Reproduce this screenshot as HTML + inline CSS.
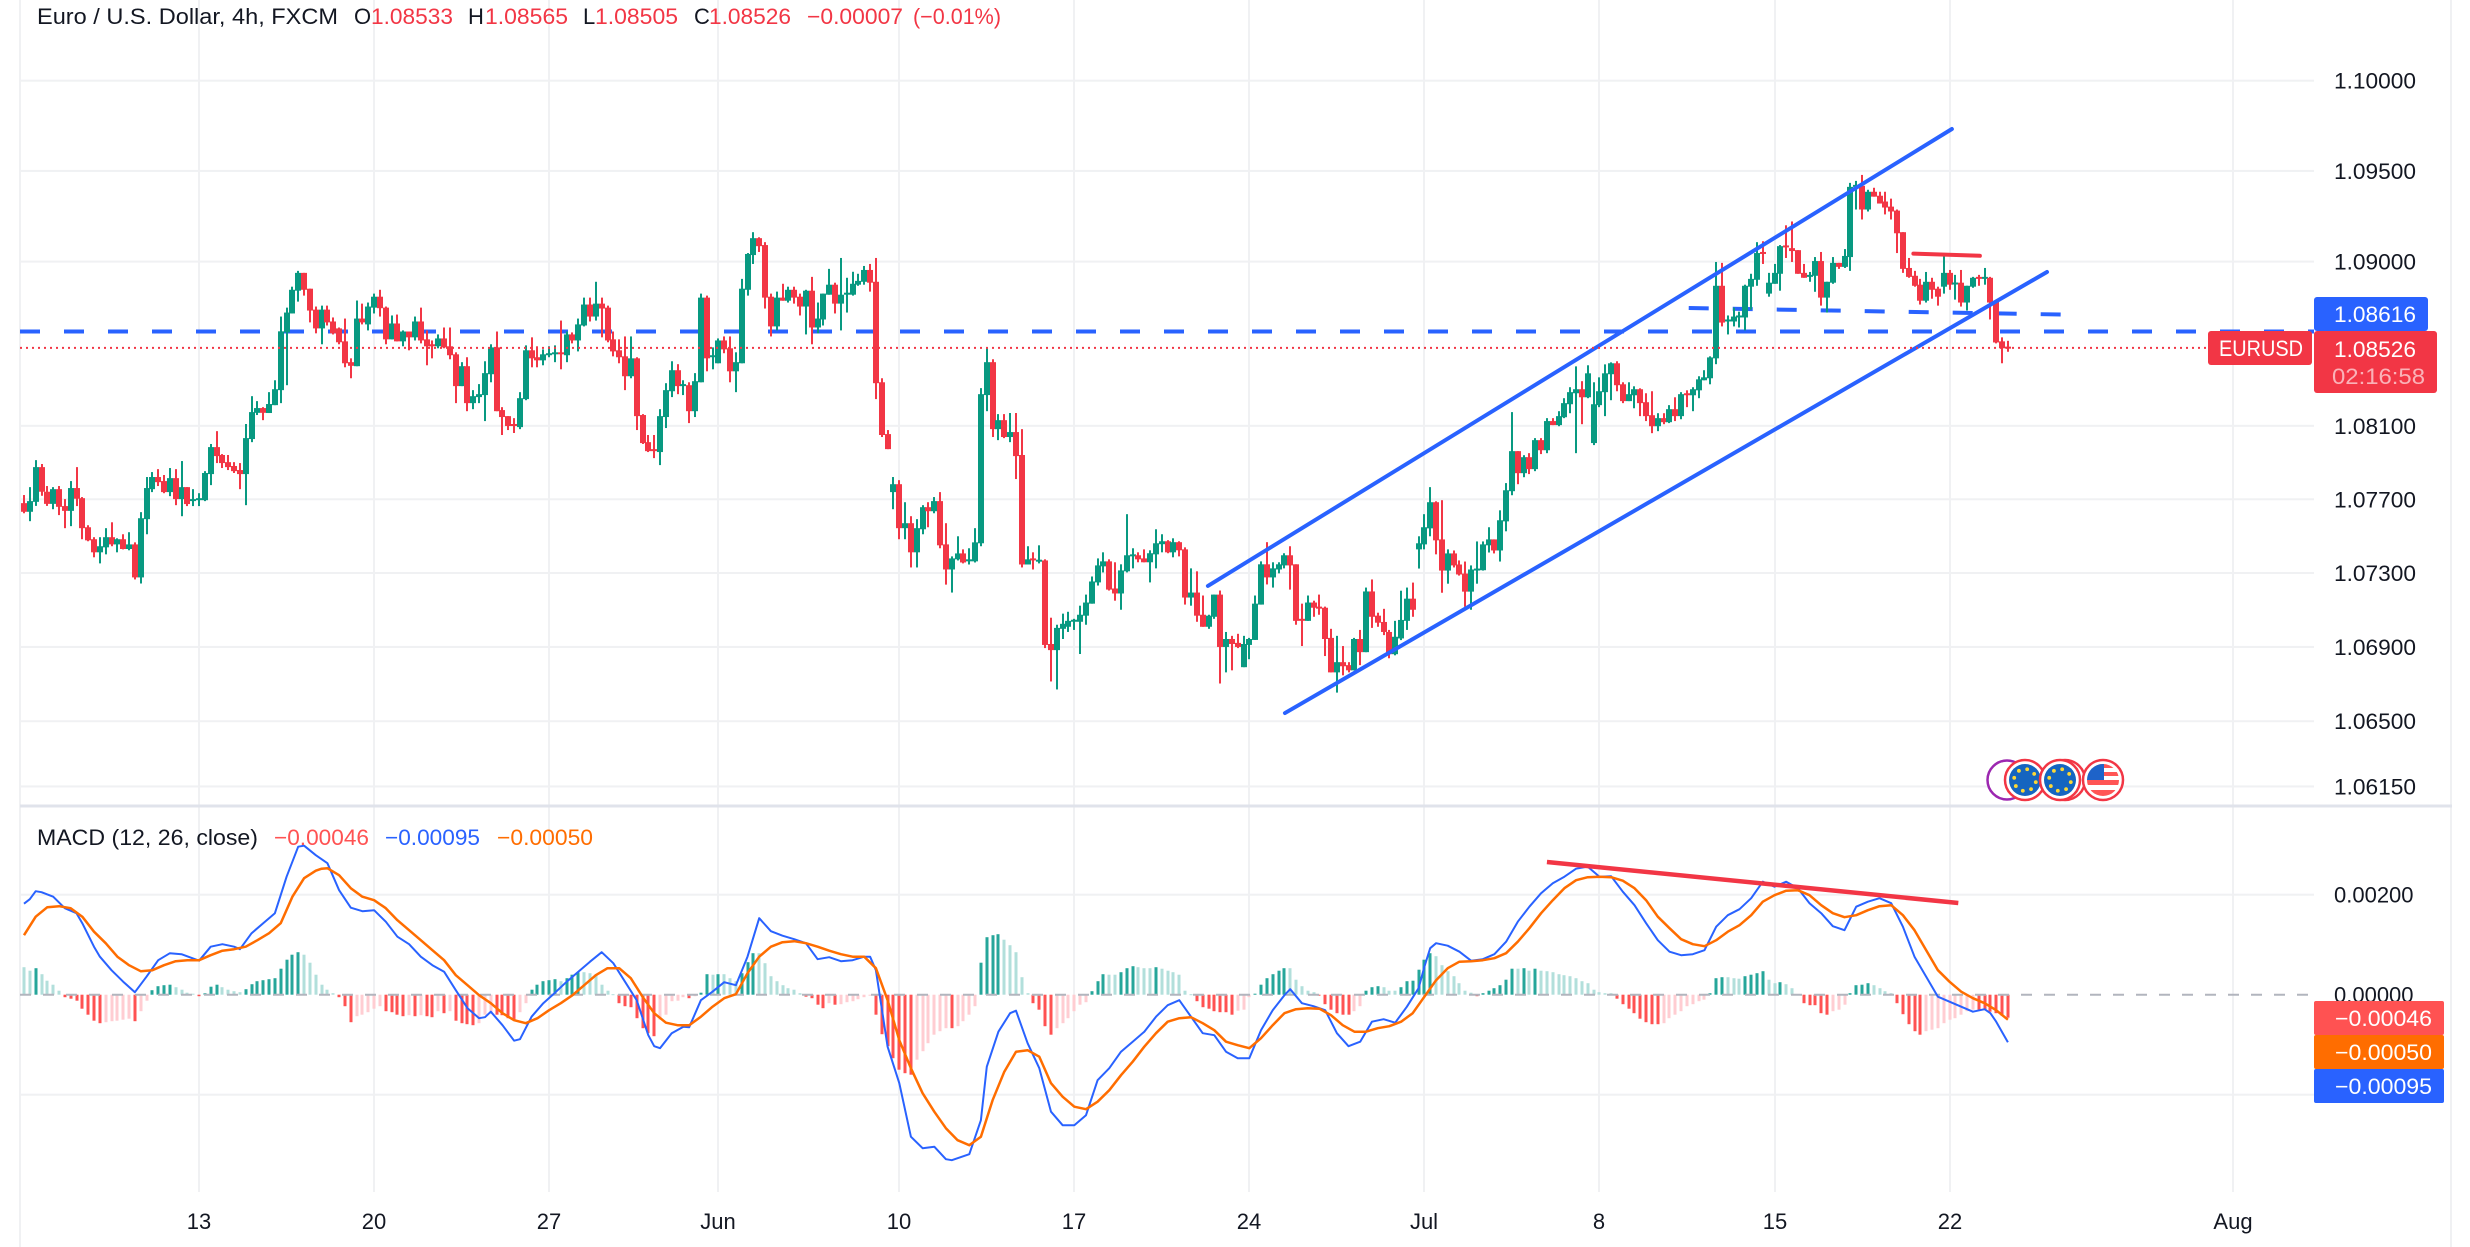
<!DOCTYPE html>
<html lang="en">
<head>
<meta charset="utf-8">
<title>EUR/USD 4h chart with MACD</title>
<style>
html,body{margin:0;padding:0;background:#fff;width:2470px;height:1247px;overflow:hidden}
svg{display:block;font-family:"Liberation Sans",sans-serif}
</style>
</head>
<body>
<svg id="chart" xmlns="http://www.w3.org/2000/svg" width="2470" height="1247" viewBox="0 0 2470 1247">
<rect x="0" y="0" width="2470" height="1247" fill="#ffffff"/>
<g id="grid"></g>
<g id="hist"></g>
<g id="under"></g>
<g id="candles"></g>
<g id="over"></g>
<g id="macdlines"></g>
<g id="ticks" font-size="22" fill="#131722"></g>
<rect x="20" y="804.5" width="2432" height="3" fill="#e0e3eb"/>

<g font-size="22">
<text x="37" y="24" textLength="301" lengthAdjust="spacingAndGlyphs" fill="#131722">Euro / U.S. Dollar, 4h, FXCM</text>
<text x="354" y="24" fill="#131722">O</text>
<text x="371" y="24" textLength="82" lengthAdjust="spacingAndGlyphs" fill="#f23645">1.08533</text>
<text x="468" y="24" fill="#131722">H</text>
<text x="485" y="24" textLength="83" lengthAdjust="spacingAndGlyphs" fill="#f23645">1.08565</text>
<text x="583" y="24" fill="#131722">L</text>
<text x="595" y="24" textLength="83" lengthAdjust="spacingAndGlyphs" fill="#f23645">1.08505</text>
<text x="694" y="24" fill="#131722">C</text>
<text x="709" y="24" textLength="82" lengthAdjust="spacingAndGlyphs" fill="#f23645">1.08526</text>
<text x="807" y="24" textLength="96" lengthAdjust="spacingAndGlyphs" fill="#f23645">−0.00007</text>
<text x="913" y="24" textLength="88" lengthAdjust="spacingAndGlyphs" fill="#f23645">(−0.01%)</text>
</g>
<g font-size="22">
<text x="37" y="845" textLength="221" lengthAdjust="spacingAndGlyphs" fill="#131722">MACD (12, 26, close)</text>
<text x="274" y="845" textLength="95" lengthAdjust="spacingAndGlyphs" fill="#ff5252">−0.00046</text>
<text x="385" y="845" textLength="95" lengthAdjust="spacingAndGlyphs" fill="#2962ff">−0.00095</text>
<text x="497" y="845" textLength="96" lengthAdjust="spacingAndGlyphs" fill="#ff6d00">−0.00050</text>
</g>

<g id="events">
<circle cx="2007" cy="780" r="19.5" fill="#fff" stroke="#9c27b0" stroke-width="2.5"/>
<circle cx="2065" cy="780" r="20" fill="#fff" stroke="#f23645" stroke-width="2.5"/>
<circle cx="2025" cy="780" r="20" fill="#fff" stroke="#f23645" stroke-width="2.5"/>
<circle cx="2025" cy="780" r="16" fill="#1565c0"/>
<circle cx="2060" cy="780" r="20" fill="#fff" stroke="#f23645" stroke-width="2.5"/>
<circle cx="2060" cy="780" r="16" fill="#1565c0"/>
<circle cx="2103" cy="780" r="20" fill="#fff" stroke="#f23645" stroke-width="2.5"/>
<clipPath id="usclip"><circle cx="2103" cy="780" r="16"/></clipPath>
<g clip-path="url(#usclip)">
<rect x="2087" y="764" width="32" height="32" fill="#fff"/>
<rect x="2087" y="764" width="32" height="4" fill="#f55"/>
<rect x="2087" y="772" width="32" height="4" fill="#f55"/>
<rect x="2087" y="780" width="32" height="5" fill="#f55"/>
<rect x="2087" y="790" width="32" height="6" fill="#f55"/>
<rect x="2087" y="764" width="17" height="16" fill="#1e63c9"/>
</g>
</g>

<g font-size="22">
<rect x="2314" y="297" width="114" height="34" rx="3" fill="#2962ff"/>
<text x="2334" y="322" textLength="82" lengthAdjust="spacingAndGlyphs" fill="#fff">1.08616</text>
<rect x="2208" y="331" width="104" height="34" rx="3" fill="#f23645"/>
<text x="2219" y="356" textLength="84" lengthAdjust="spacingAndGlyphs" fill="#fff">EURUSD</text>
<rect x="2314" y="331" width="123" height="62" rx="3" fill="#f23645"/>
<text x="2334" y="357" textLength="82" lengthAdjust="spacingAndGlyphs" fill="#fff">1.08526</text>
<text x="2332" y="384" textLength="93" lengthAdjust="spacingAndGlyphs" fill="#fff" fill-opacity="0.62">02:16:58</text>
<rect x="2314" y="1001" width="130" height="34" rx="2" fill="#ff5252"/>
<text x="2335" y="1026" textLength="97" lengthAdjust="spacingAndGlyphs" fill="#fff">−0.00046</text>
<rect x="2314" y="1035" width="130" height="34" rx="2" fill="#ff6d00"/>
<text x="2335" y="1060" textLength="97" lengthAdjust="spacingAndGlyphs" fill="#fff">−0.00050</text>
<rect x="2314" y="1069" width="130" height="34" rx="2" fill="#2962ff"/>
<text x="2335" y="1094" textLength="97" lengthAdjust="spacingAndGlyphs" fill="#fff">−0.00095</text>
</g>
</svg>
<script>
// OHLC values, in price x 100000
const opens=[107679,107632,107686,107875,107741,107675,107755,107663,107637,107761,
107706,107548,107483,107412,107439,107494,107455,107483,107430,107455,
107276,107592,107755,107821,107799,107739,107815,107701,107766,107693,
107697,107695,107837,107984,107941,107902,107881,107859,107837,108028,
108171,108197,108170,108213,108295,108611,108715,108840,108938,108851,
108736,108633,108736,108671,108633,108562,108448,108426,108687,108655,
108747,108807,108747,108573,108660,108562,108616,108584,108671,108573,
108546,108535,108578,108535,108491,108317,108426,108224,108257,108268,
108382,108529,108186,108153,108110,108093,108246,108513,108475,108458,
108486,108495,108502,108486,108600,108567,108649,108764,108698,108769,
108747,108573,108513,108480,108371,108469,108159,108011,107973,107957,
108148,108289,108404,108318,108322,108180,108338,108802,108475,108442,
108567,108524,108398,108442,108845,109036,109129,109091,108807,108644,
108802,108785,108845,108807,108753,108840,108638,108682,108818,108873,
108769,108818,108818,108873,108889,108954,108889,108338,108055,107739,
107782,107543,107570,107412,107537,107657,107635,107690,107455,107319,
107374,107406,107366,107363,107461,108268,108448,108082,108131,108039,
108066,107941,107346,107379,107366,107368,106916,106883,106998,107009,
107040,107036,107069,107134,107249,107336,107363,107216,107189,107309,
107392,107396,107379,107358,107401,107456,107472,107412,107467,107428,
107167,107194,107074,107009,107063,107183,106900,106943,106922,106791,
106911,106938,107129,107347,107276,107319,107341,107396,107347,107052,
107041,107140,107118,107112,106949,106763,106818,106802,106774,106943,
106872,107200,107069,107035,106981,106861,106946,107041,107161,107428,
107455,107542,107684,107482,107313,107406,107346,107297,107199,107315,
107315,107450,107482,107422,107580,107744,107962,107842,107929,107864,
108022,107967,108126,108104,108147,108218,108278,108300,108256,108006,
108213,108284,108382,108442,108327,108235,108267,108300,108229,108158,
108098,108142,108120,108191,108153,108278,108267,108294,108349,108360,
108469,108867,108673,108671,108695,108693,108862,108900,109053,108824,
108878,108933,109089,109074,109063,108938,108918,108922,109003,108802,
108884,108993,108971,109025,109412,109418,109287,109385,109363,109331,
109303,109281,109162,108965,108922,108873,108785,108889,108851,108862,
108938,108878,108884,108775,108862,108916,108909,108911,108780,108562,
108533];
const highs=[107723,107766,107913,107892,107772,107766,107772,107701,107799,107875,
107712,107559,107494,107494,107543,107575,107488,107510,107521,107466,
107630,107821,107848,107864,107832,107870,107864,107908,107766,107755,
107733,107853,108001,108071,107946,107941,107902,107897,108110,108262,
108235,108202,108284,108349,108698,108747,108862,108949,108938,108851,
108753,108758,108758,108693,108638,108687,108469,108786,108769,108775,
108824,108845,108753,108704,108709,108622,108616,108698,108747,108622,
108567,108600,108638,108638,108502,108448,108475,108295,108328,108453,
108546,108616,108202,108153,108142,108284,108540,108584,108535,108518,
108535,108540,108676,108616,108611,108687,108802,108802,108889,108802,
108758,108616,108573,108589,108589,108475,108164,108050,108050,108191,
108333,108453,108437,108349,108338,108388,108824,108813,108529,108578,
108589,108589,108502,108905,109047,109162,109134,109107,108824,108835,
108878,108862,108862,108824,108845,108916,108775,108824,108960,108884,
109020,108911,108944,108933,108976,108987,109020,108360,108077,107821,
107804,107684,107608,107592,107668,107684,107712,107739,107570,107390,
107499,107428,107434,107543,108306,108529,108464,108164,108164,108170,
108170,108082,107445,107412,107450,107374,107058,107020,107080,107090,
107052,107123,107183,107281,107379,107412,107374,107358,107347,107619,
107434,107412,107428,107423,107537,107510,107478,107488,107472,107439,
107325,107309,107178,107074,107183,107205,106981,106960,106971,106960,
106949,107178,107363,107467,107358,107358,107407,107445,107347,107134,
107178,107150,107183,107118,106998,106960,106905,106818,106949,106992,
107221,107265,107085,107106,106992,107041,107204,107221,107248,107499,
107619,107766,107689,107695,107428,107422,107368,107362,107341,107471,
107471,107548,107482,107640,107788,108175,107962,107940,107951,108033,
108033,108142,108142,108180,108251,108311,108425,108344,108431,108338,
108365,108436,108447,108453,108338,108338,108316,108305,108278,108289,
108169,108169,108213,108256,108284,108294,108311,108371,108404,108480,
108998,108993,108704,108747,108725,108873,108933,109107,109112,108938,
108987,109091,109200,109221,109063,108987,108943,109025,109053,108889,
109025,108993,109069,109434,109445,109478,109396,109407,109385,109385,
109347,109287,109162,109020,108949,108905,108943,108911,108862,109031,
108954,108927,108954,108867,108916,108927,108965,108916,108785,108584,
108565];
const lows=[107624,107581,107664,107719,107664,107646,107614,107543,107554,107663,
107483,107472,107385,107352,107401,107445,107412,107428,107423,107265,
107243,107510,107739,107772,107733,107717,107668,107608,107663,107663,
107663,107690,107777,107897,107870,107859,107843,107755,107668,108011,
108159,108131,108170,108213,108224,108322,108715,108780,108813,108666,
108606,108546,108649,108600,108546,108420,108360,108426,108655,108622,
108715,108698,108546,108573,108562,108535,108513,108567,108551,108431,
108469,108524,108524,108464,108224,108317,108180,108191,108224,108126,
108338,108180,108050,108077,108061,108082,108240,108420,108420,108431,
108475,108448,108409,108448,108551,108507,108644,108671,108676,108584,
108557,108480,108442,108295,108360,108077,108001,107957,107924,107886,
108088,108257,108273,108268,108115,108148,108338,108398,108409,108442,
108497,108338,108284,108442,108813,108987,109053,108742,108589,108622,
108785,108775,108769,108704,108600,108546,108606,108649,108818,108715,
108622,108720,108813,108867,108873,108835,108246,108039,107973,107646,
107483,107483,107330,107330,107510,107548,107624,107434,107237,107194,
107368,107352,107346,107357,107445,108180,108039,108022,108033,108011,
107810,107330,107346,107319,107352,106894,106714,106671,106943,106981,
106992,106862,107020,107134,107232,107303,107205,107150,107101,107303,
107325,107358,107358,107249,107325,107412,107407,107385,107390,107129,
107123,107036,107009,106998,107052,106703,106763,106774,106894,106791,
106834,106938,107129,107238,107221,107298,107325,107210,107020,106905,
107041,107063,107074,106851,106763,106654,106747,106763,106774,106802,
106872,107003,107009,106964,106839,106855,106937,106992,107063,107324,
107428,107499,107401,107193,107242,107330,107286,107117,107101,107242,
107313,107411,107406,107362,107526,107722,107782,107820,107837,107853,
107946,107951,108104,108098,108142,108169,107951,108109,108251,107995,
108202,108153,108240,108289,108224,108235,108196,108153,108126,108060,
108071,108109,108115,108126,108136,108202,108180,108251,108349,108327,
108437,108644,108600,108644,108638,108622,108736,108867,108987,108807,
108878,108840,109020,108998,108933,108911,108889,108834,108758,108720,
108878,108960,108965,108949,109287,109232,109276,109358,109320,109260,
109232,109047,108938,108911,108862,108764,108775,108796,108758,108824,
108845,108791,108753,108731,108856,108867,108873,108682,108551,108442,
108505];
const closes=[107632,107690,107875,107741,107675,107755,107659,107637,107761,107703,
107543,107477,107412,107445,107494,107455,107483,107430,107455,107276,
107597,107761,107821,107793,107739,107815,107701,107766,107674,107701,
107706,107843,107984,107935,107897,107875,107853,107837,108033,108175,
108197,108171,108219,108300,108617,108720,108845,108938,108845,108731,
108633,108736,108666,108606,108557,108442,108428,108687,108666,108753,
108807,108744,108573,108660,108562,108616,108584,108671,108567,108535,
108535,108578,108529,108486,108317,108426,108224,108262,108273,108388,
108529,108180,108148,108099,108099,108251,108513,108469,108458,108491,
108497,108502,108493,108600,108567,108655,108764,108698,108769,108742,
108567,108507,108475,108371,108469,108153,108006,107962,107962,108153,
108295,108404,108317,108328,108180,108344,108802,108469,108486,108567,
108518,108398,108448,108851,109042,109129,109085,108802,108644,108802,
108785,108845,108802,108753,108840,108638,108687,108824,108873,108769,
108818,108829,108878,108894,108954,108884,108333,108050,107973,107782,
107543,107570,107412,107543,107657,107635,107690,107450,107319,107379,
107406,107357,107374,107466,108273,108448,108082,108131,108039,108066,
107935,107346,107374,107370,107372,106911,106883,107003,107025,107041,
107047,107074,107140,107254,107341,107363,107210,107189,107314,107396,
107401,107374,107358,107407,107461,107472,107412,107467,107423,107167,
107194,107069,107009,107069,107183,106900,106943,106916,106900,106916,
106943,107134,107347,107276,107325,107347,107396,107341,107041,107045,
107140,107112,107107,106943,106763,106818,106796,106774,106943,106872,
107200,107063,107031,106981,106861,106955,107046,107161,107101,107461,
107548,107684,107477,107313,107406,107341,107292,107199,107319,107324,
107455,107482,107422,107586,107749,107962,107842,107929,107864,108022,
107967,108126,108104,108153,108224,108284,108300,108256,108387,108218,
108289,108387,108442,108322,108235,108273,108300,108224,108153,108098,
108142,108120,108191,108153,108273,108269,108300,108354,108365,108474,
108867,108665,108682,108698,108704,108867,108905,109047,109045,108884,
108938,109085,109082,109058,108933,108911,108927,109003,108802,108889,
108993,108971,109031,109412,109423,109287,109385,109358,109320,109298,
109276,109156,108960,108916,108867,108785,108889,108845,108807,108938,
108873,108885,108775,108867,108911,108911,108916,108775,108556,108524,
108526];
// MACD histogram, x 100000, one per bar
const histValues=[55,48,53,41,28,20,8,-5,-8,-12,-28,-40,-52,-57,-55,-53,-52,-50,-48,-53,
-33,-12,9,17,19,20,15,10,4,2,-3,3,16,20,15,10,7,5,11,21,
27,29,31,33,52,70,80,85,80,64,40,20,10,3,-5,-23,-55,-43,-40,-35,
-28,-23,-33,-35,-40,-43,-41,-43,-41,-43,-45,-33,-37,-33,-52,-57,-59,-61,-57,-40,
-35,-40,-41,-47,-50,-35,-17,10,20,27,29,31,27,33,40,45,45,43,41,20,
8,1,-17,-23,-25,-47,-67,-77,-83,-50,-40,-13,-12,-5,-7,-3,4,41,40,41,
41,33,27,43,65,83,83,63,37,27,19,13,10,3,-4,-7,-20,-27,-17,-20,
-19,-15,-13,-9,-5,-2,-40,-79,-103,-127,-150,-157,-160,-130,-113,-97,-80,-73,-67,-67,
-63,-53,-40,-23,64,115,119,121,110,99,85,35,3,-17,-30,-63,-80,-67,-57,-47,
-33,-20,-15,7,27,41,40,40,45,53,57,55,53,53,55,52,48,45,40,8,
1,-13,-25,-28,-33,-35,-35,-40,-32,-30,-5,2,20,33,41,48,53,53,30,17,
8,5,-2,-19,-30,-37,-40,-40,-33,-23,8,15,17,15,8,8,15,27,28,50,
70,83,77,59,47,37,23,8,4,-3,3,8,13,19,30,52,52,53,48,52,
48,47,45,41,39,37,33,27,23,10,5,3,3,-8,-19,-28,-37,-48,-55,-59,
-59,-57,-47,-40,-33,-23,-19,-13,-10,3,33,35,35,33,32,37,40,43,47,30,
23,25,21,13,1,-17,-21,-21,-37,-40,-33,-30,-20,3,19,20,23,19,13,7,
3,-17,-39,-59,-73,-80,-73,-70,-67,-57,-50,-47,-40,-33,-30,-30,-31,-34,-37,-42,
-46];
// MACD line, x 100000, at the bars in macdBars
const macdBars=[1,2,3,4,6,8,10,11,13,14,16,18,20,22,24,26,28,31,33,35,37,38,40,42,44,46,48,49,51,53,55,57,59,61,63,65,67,69,71,73,75,77,79,80,81,83,85,86,88,90,92,94,96,98,100,102,104,106,108,109,110,112,114,115,117,119,121,123,125,127,129,131,133,135,137,139,141,143,145,146,147,149,151,153,155,157,159,160,163,165,166,168,170,171,173,175,177,179,181,183,185,187,189,191,193,195,197,199,201,203,205,207,209,211,213,215,217,218,220,222,224,226,228,230,232,234,236,238,240,241,242,243,245,247,249,251,253,255,257,259,261,263,265,267,269,271,273,275,277,279,281,283,285,287,289,291,293,295,297,299,301,303,305,307,309,311,313,315,317,319,321,323,325,327,329,331,333,335,337,338,339,341];
const macdValues=[182,191,207,205,196,173,163,143,96,76,49,26,5,36,69,83,81,68,96,101,96,91,123,143,163,236,296,298,279,263,209,174,167,169,146,116,101,76,59,46,9,-27,-47,-45,-34,-61,-92,-89,-44,-17,4,26,46,66,85,63,26,-11,-81,-103,-107,-77,-64,-65,-11,6,25,19,76,153,127,118,111,103,71,75,67,69,76,76,49,-104,-177,-284,-307,-304,-329,-331,-319,-251,-144,-74,-37,-32,-97,-147,-234,-261,-261,-241,-171,-147,-114,-94,-74,-44,-21,-11,-44,-77,-81,-114,-127,-127,-71,-31,-1,11,-17,-23,-31,-77,-103,-94,-54,-49,-56,-24,13,56,93,103,98,86,68,71,81,106,146,176,203,223,236,252,256,236,237,206,179,143,109,86,79,81,89,136,159,171,193,226,216,226,213,183,163,137,129,176,186,193,183,136,76,36,-4,-14,-24,-34,-29,-37,-54,-95];
// Signal line, x 100000, at the bars in signalBars
const signalBars=[1,3,5,7,9,11,13,15,17,19,21,23,25,27,29,31,33,35,37,39,41,43,45,47,49,51,52,53,55,57,59,61,63,65,67,69,71,73,75,77,79,81,83,85,87,89,91,93,95,97,99,101,103,105,107,109,111,113,115,117,119,121,123,125,127,129,131,133,135,137,139,141,143,145,147,149,151,153,155,157,159,161,163,165,167,169,171,173,175,177,179,181,183,185,187,189,191,193,195,197,199,201,203,205,207,209,211,213,215,217,219,221,223,225,227,229,231,233,235,237,239,241,243,245,247,249,251,253,255,257,259,261,263,265,267,269,271,273,275,277,279,281,283,285,287,289,291,293,295,297,299,301,303,305,307,309,311,313,315,317,319,321,323,325,327,329,331,333,335,337,339,341];
const signalValues=[119,156,175,177,173,156,126,103,76,59,47,49,59,67,69,69,79,88,91,96,109,123,143,196,233,248,252,253,239,213,196,189,173,149,129,109,89,69,39,19,-1,-17,-37,-51,-57,-47,-31,-17,-1,19,39,53,53,33,-4,-37,-56,-61,-61,-44,-24,-7,1,43,76,96,105,107,103,96,88,81,76,76,53,-11,-91,-147,-197,-234,-267,-291,-301,-284,-211,-154,-114,-111,-124,-177,-204,-224,-229,-214,-191,-161,-134,-104,-77,-54,-47,-45,-57,-71,-94,-101,-107,-87,-61,-37,-29,-27,-28,-41,-61,-74,-74,-67,-63,-54,-37,-4,29,53,66,67,69,73,83,106,133,163,189,213,229,235,236,235,228,213,189,156,133,111,101,97,109,126,139,159,186,199,208,209,199,179,163,155,159,169,177,179,159,129,89,49,26,6,-7,-17,-31,-50];
// axis ticks
const priceTicks=[1.1,1.095,1.09,1.081,1.077,1.073,1.069,1.065,1.0615];
const macdTicks=[0.002,0,-0.002];
const timeTickBars=[31,61,91,120,151,181,211,241,271,301,331,379.6];
const timeTickLabels=["13","20","27","Jun","10","17","24","Jul","8","15","22","Aug"];
const weightTickBars=[120,241,379.6];
// drawings: [bar, price] end points
const upperChannelBars=[203.9,331.4];
const upperChannelPrices=[1.0723,1.09732];
const lowerChannelBars=[217.1,347.7];
const lowerChannelPrices=[1.06544,1.08943];
const necklineBars=[286.3,350.2];
const necklinePrices=[1.08745,1.08709];
const resistanceBars=[324.8,336.2];
const resistancePrices=[1.09044,1.09032];
const divergenceBars=[262,332.5];
const divergenceValues=[0.002654,0.001834];
const levelPrice=1.08616;
const lastPrice=1.08526;

const NS="http://www.w3.org/2000/svg";
const BULL="#089981",BEAR="#f23645",BLUE="#2962ff",GRID="#f0f1f3";
function xBar(n){return 24+(n-1)*5.835;}
function yPrice(p){return 261.6+19809*Math.log(1.09/p);}
function yMacd(v){return 994.7-v*50000;}
function mk(tag,attrs,parent){const el=document.createElementNS(NS,tag);for(const k in attrs){el.setAttribute(k,attrs[k]);}parent.appendChild(el);return el;}
const gridG=document.getElementById('grid'),histG=document.getElementById('hist'),underG=document.getElementById('under'),candleG=document.getElementById('candles'),overG=document.getElementById('over'),linesG=document.getElementById('macdlines'),tickG=document.getElementById('ticks');

// frame
[20,2451].forEach(function(x){
  const el=mk('rect',{x:x-1,y:0,width:2,height:1247,fill:GRID},gridG);
  
  
});
// vertical grid and time labels
timeTickBars.forEach(function(b,i){
  const x=Math.round(xBar(b));
  const g=mk('rect',{x:x-1,y:0,width:2,height:1192,fill:GRID},gridG);
  
  
  const t=mk('text',{x:x,y:1229,'text-anchor':'middle'},tickG);
  
  
  t.textContent=timeTickLabels[i];
});
// horizontal grid and price labels
priceTicks.forEach(function(p){
  const y=yPrice(p);
  const g=mk('rect',{x:20,y:y-1,width:2294,height:2,fill:GRID},gridG);
  
  
  const t=mk('text',{x:2334,y:y+8,textLength:82,lengthAdjust:'spacingAndGlyphs'},tickG);
  
  
  t.textContent=p.toFixed(5);
});
macdTicks.forEach(function(v){
  const y=yMacd(v);
  if(v!==0){
    const g=mk('rect',{x:20,y:y-1,width:2294,height:2,fill:GRID},gridG);
    
    
  }
  const neg=v<0;
  const t=mk('text',{x:neg?2334:2334,y:y+8},tickG);
  
  
  t.textContent=(neg?'\u2212':'')+Math.abs(v).toFixed(5);
});

// histogram
histValues.forEach(function(h,i){
  const prev=i>0?histValues[i-1]:h;
  const col=h>=0?(prev<h?'#26a69a':'#b2dfdb'):(prev<h?'#ffcdd2':'#ff5252');
  const y0=yMacd(0),y1=yMacd(h/100000);
  const el=mk('rect',{x:Math.round(xBar(i+1))-1.5,y:Math.min(y0,y1),width:3,height:Math.max(1,Math.abs(y1-y0)),fill:col},histG);
  
  
});
const zero=mk('line',{x1:20,x2:2314,y1:yMacd(0),y2:yMacd(0),stroke:'#b2b5be','stroke-width':2,'stroke-dasharray':'11 12'},histG);



// blue horizontal level under the candles
const level=mk('line',{x1:20,x2:2314,y1:yPrice(levelPrice),y2:yPrice(levelPrice),stroke:BLUE,'stroke-width':4,'stroke-dasharray':'20 24'},underG);


const neck=mk('line',{x1:xBar(necklineBars[0]),x2:xBar(necklineBars[1]),y1:yPrice(necklinePrices[0]),y2:yPrice(necklinePrices[1]),stroke:BLUE,'stroke-width':4,'stroke-dasharray':'20 24'},underG);



// candles
opens.forEach(function(o,i){
  const c=closes[i],col=c>=o?BULL:BEAR,cx=Math.round(xBar(i+1));
  const yH=yPrice(highs[i]/100000),yL=yPrice(lows[i]/100000),yO=yPrice(o/100000),yC=yPrice(c/100000);
  const g=mk('g',{},candleG);
  
  
  const w=mk('rect',{x:cx-1,y:yH,width:2,height:Math.max(1,yL-yH),fill:col},g);
  
  
  const b=mk('rect',{x:cx-3,y:Math.min(yO,yC),width:6,height:Math.max(2,Math.abs(yC-yO)),fill:col},g);
  
  
});

// drawings over the candles
const upper=mk('line',{x1:xBar(upperChannelBars[0]),x2:xBar(upperChannelBars[1]),y1:yPrice(upperChannelPrices[0]),y2:yPrice(upperChannelPrices[1]),stroke:BLUE,'stroke-width':4,'stroke-linecap':'round'},overG);


const lower=mk('line',{x1:xBar(lowerChannelBars[0]),x2:xBar(lowerChannelBars[1]),y1:yPrice(lowerChannelPrices[0]),y2:yPrice(lowerChannelPrices[1]),stroke:BLUE,'stroke-width':4,'stroke-linecap':'round'},overG);


const resist=mk('line',{x1:xBar(resistanceBars[0]),x2:xBar(resistanceBars[1]),y1:yPrice(resistancePrices[0]),y2:yPrice(resistancePrices[1]),stroke:BEAR,'stroke-width':4,'stroke-linecap':'round'},overG);


const lastLine=mk('line',{x1:20,x2:2208,y1:yPrice(lastPrice),y2:yPrice(lastPrice),stroke:BEAR,'stroke-width':2,'stroke-dasharray':'2 4'},overG);



// MACD lines
function pts(bars,vals){return bars.map(function(b,i){return xBar(b).toFixed(1)+','+yMacd(vals[i]/100000).toFixed(1);}).join(' ');}
const macdLine=mk('polyline',{points:pts(macdBars,macdValues),fill:'none',stroke:BLUE,'stroke-width':2,'stroke-linejoin':'round'},linesG);


const signalLine=mk('polyline',{points:pts(signalBars,signalValues),fill:'none',stroke:'#ff6d00','stroke-width':2.5,'stroke-linejoin':'round'},linesG);


const diverge=mk('line',{x1:xBar(divergenceBars[0]),x2:xBar(divergenceBars[1]),y1:yMacd(divergenceValues[0]),y2:yMacd(divergenceValues[1]),stroke:BEAR,'stroke-width':4.5},linesG);



// stars on the EU icons
const eventsG=document.getElementById('events');
[2025,2060].forEach(function(cx){
  for(let k=0;k<8;k++){
    const a=k*Math.PI/4+0.2;
    const s=mk('circle',{cx:cx+11*Math.cos(a),cy:780+11*Math.sin(a),r:1.9,fill:'#fdd835'},eventsG);
    
    
  }
});
</script>
</body>
</html>
